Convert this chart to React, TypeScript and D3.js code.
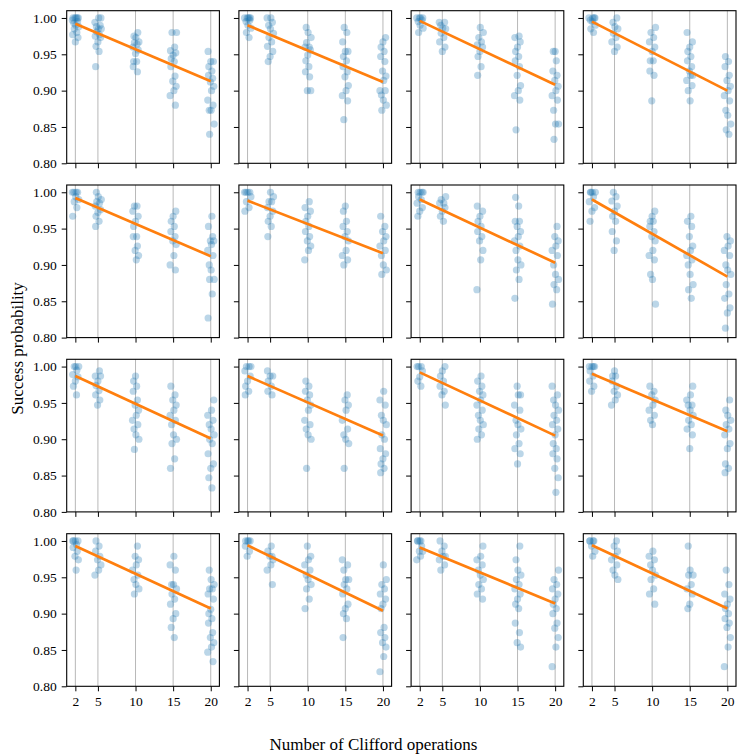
import { useEffect, useRef } from 'react';
import * as d3 from 'd3';

// number of Clifford operations (x categories)
const cliffordCounts = [2, 5, 10, 15, 20];
const yTickValues = [0.8, 0.85, 0.9, 0.95, 1.0];

// success probabilities per panel, one list per Clifford count
const panel01 = [
    [1, 1, 1, 1, 1, 0.997, 0.995, 0.993, 0.99, 0.988, 0.985, 0.98, 0.977, 0.973, 0.967],
    [1, 1, 0.994, 0.99, 0.988, 0.985, 0.985, 0.981, 0.977, 0.975, 0.973, 0.967, 0.961, 0.954, 0.933],
    [0.98, 0.975, 0.973, 0.967, 0.966, 0.964, 0.96, 0.956, 0.951, 0.94, 0.94, 0.933, 0.926],
    [0.98, 0.98, 0.96, 0.955, 0.952, 0.949, 0.944, 0.94, 0.933, 0.92, 0.913, 0.906, 0.9, 0.893, 0.88],
    [0.954, 0.94, 0.94, 0.933, 0.927, 0.921, 0.917, 0.912, 0.906, 0.9, 0.887, 0.88, 0.873, 0.873, 0.854, 0.84],
];
const panel02 = [
    [1, 1, 1, 1, 1, 0.997, 0.995, 0.99, 0.986, 0.98, 0.973],
    [1, 1, 0.994, 0.99, 0.985, 0.979, 0.973, 0.967, 0.961, 0.954, 0.947, 0.94],
    [0.987, 0.98, 0.973, 0.966, 0.96, 0.96, 0.956, 0.949, 0.941, 0.933, 0.926, 0.919, 0.9, 0.9],
    [0.987, 0.98, 0.967, 0.954, 0.954, 0.947, 0.941, 0.933, 0.926, 0.919, 0.907, 0.9, 0.893, 0.886, 0.86],
    [0.973, 0.967, 0.96, 0.954, 0.947, 0.94, 0.927, 0.92, 0.914, 0.9, 0.9, 0.894, 0.887, 0.88, 0.873],
];
const panel03 = [
    [1, 1, 1, 1, 0.997, 0.995, 0.99, 0.986, 0.98],
    [0.994, 0.994, 0.99, 0.986, 0.985, 0.979, 0.973, 0.967, 0.96, 0.954],
    [0.987, 0.98, 0.973, 0.967, 0.963, 0.96, 0.954, 0.947, 0.933, 0.921],
    [0.975, 0.973, 0.967, 0.96, 0.954, 0.947, 0.941, 0.933, 0.921, 0.907, 0.9, 0.893, 0.887, 0.846],
    [0.954, 0.954, 0.941, 0.927, 0.921, 0.914, 0.906, 0.9, 0.893, 0.887, 0.873, 0.854, 0.854, 0.833],
];
const panel04 = [
    [1, 1, 1, 1, 0.997, 0.995, 0.99, 0.985, 0.98],
    [1, 0.994, 0.988, 0.985, 0.979, 0.973, 0.967, 0.96, 0.954],
    [0.987, 0.98, 0.973, 0.967, 0.96, 0.954, 0.941, 0.941, 0.927, 0.921, 0.886],
    [0.98, 0.967, 0.96, 0.954, 0.947, 0.941, 0.933, 0.927, 0.921, 0.921, 0.914, 0.907, 0.9, 0.886],
    [0.947, 0.94, 0.933, 0.921, 0.914, 0.906, 0.9, 0.893, 0.886, 0.873, 0.866, 0.854, 0.846, 0.84],
];
const panel05 = [
    [1, 1, 1, 1, 0.994, 0.99, 0.987, 0.979, 0.967],
    [1, 0.994, 0.99, 0.987, 0.985, 0.981, 0.976, 0.972, 0.967, 0.96, 0.953],
    [0.981, 0.981, 0.974, 0.967, 0.96, 0.953, 0.939, 0.939, 0.926, 0.92, 0.913, 0.907],
    [0.974, 0.967, 0.96, 0.953, 0.946, 0.939, 0.933, 0.928, 0.913, 0.9, 0.893],
    [0.967, 0.953, 0.939, 0.933, 0.933, 0.928, 0.92, 0.913, 0.9, 0.893, 0.88, 0.88, 0.86, 0.827],
];
const panel06 = [
    [1, 1, 1, 1, 0.994, 0.987, 0.979, 0.974],
    [1, 0.994, 0.987, 0.987, 0.979, 0.974, 0.967, 0.96, 0.953, 0.939],
    [0.987, 0.979, 0.974, 0.967, 0.96, 0.953, 0.946, 0.939, 0.933, 0.926, 0.92, 0.907],
    [0.981, 0.974, 0.96, 0.953, 0.946, 0.939, 0.933, 0.92, 0.913, 0.907, 0.9],
    [0.967, 0.953, 0.946, 0.939, 0.933, 0.926, 0.92, 0.913, 0.9, 0.893, 0.887],
];
const panel07 = [
    [1, 1, 1, 1, 0.994, 0.99, 0.985, 0.979, 0.974, 0.967],
    [0.994, 0.99, 0.985, 0.985, 0.979, 0.974, 0.967, 0.96],
    [0.981, 0.974, 0.967, 0.96, 0.953, 0.946, 0.939, 0.933, 0.92, 0.907, 0.866],
    [0.993, 0.981, 0.96, 0.96, 0.953, 0.946, 0.939, 0.933, 0.926, 0.92, 0.907, 0.9, 0.893, 0.88, 0.854],
    [0.953, 0.939, 0.933, 0.926, 0.92, 0.913, 0.9, 0.887, 0.88, 0.873, 0.866, 0.846],
];
const panel08 = [
    [1, 1, 1, 1, 0.994, 0.987, 0.979, 0.974, 0.96],
    [1, 0.994, 0.988, 0.981, 0.974, 0.967, 0.96, 0.946, 0.933, 0.92],
    [0.974, 0.967, 0.96, 0.96, 0.953, 0.946, 0.939, 0.933, 0.92, 0.913, 0.907, 0.887, 0.88, 0.846],
    [0.967, 0.96, 0.953, 0.939, 0.926, 0.92, 0.913, 0.907, 0.9, 0.887, 0.873, 0.866, 0.854],
    [0.939, 0.933, 0.926, 0.92, 0.913, 0.9, 0.893, 0.887, 0.873, 0.86, 0.854, 0.841, 0.834, 0.813],
];
const panel09 = [
    [1, 1, 1, 0.995, 0.989, 0.986, 0.98, 0.973, 0.961],
    [0.994, 0.987, 0.987, 0.98, 0.974, 0.967, 0.961, 0.954, 0.947],
    [0.987, 0.98, 0.973, 0.966, 0.954, 0.947, 0.94, 0.933, 0.926, 0.92, 0.914, 0.906, 0.9, 0.886],
    [0.973, 0.961, 0.954, 0.947, 0.94, 0.933, 0.926, 0.92, 0.906, 0.9, 0.894, 0.873, 0.86],
    [0.954, 0.94, 0.933, 0.926, 0.92, 0.914, 0.906, 0.9, 0.894, 0.88, 0.866, 0.86, 0.847, 0.833],
];
const panel10 = [
    [1, 1, 1, 0.994, 0.987, 0.98, 0.973, 0.966, 0.961],
    [0.994, 0.987, 0.987, 0.98, 0.973, 0.966, 0.961],
    [0.98, 0.973, 0.966, 0.961, 0.954, 0.947, 0.94, 0.926, 0.92, 0.914, 0.906, 0.9, 0.86],
    [0.961, 0.954, 0.947, 0.94, 0.926, 0.914, 0.906, 0.9, 0.894, 0.86],
    [0.966, 0.954, 0.947, 0.933, 0.926, 0.92, 0.906, 0.9, 0.887, 0.88, 0.873, 0.866, 0.86, 0.854],
];
const panel11 = [
    [1, 1, 1, 0.994, 0.986, 0.98, 0.973],
    [1, 0.994, 0.987, 0.98, 0.973, 0.966, 0.961, 0.947],
    [0.987, 0.98, 0.973, 0.966, 0.961, 0.954, 0.947, 0.94, 0.933, 0.926, 0.92, 0.914, 0.906, 0.9],
    [0.973, 0.961, 0.961, 0.947, 0.94, 0.926, 0.92, 0.914, 0.906, 0.894, 0.887, 0.88, 0.866],
    [0.973, 0.961, 0.954, 0.947, 0.94, 0.933, 0.926, 0.92, 0.914, 0.906, 0.894, 0.887, 0.88, 0.873, 0.86, 0.847, 0.827],
];
const panel12 = [
    [1, 1, 1, 1, 0.994, 0.987, 0.98, 0.973, 0.966],
    [0.994, 0.987, 0.987, 0.98, 0.973, 0.966, 0.961, 0.954, 0.947],
    [0.973, 0.966, 0.961, 0.954, 0.947, 0.94, 0.933, 0.926, 0.92],
    [0.973, 0.961, 0.954, 0.947, 0.947, 0.94, 0.933, 0.926, 0.92, 0.914, 0.906, 0.887],
    [0.954, 0.94, 0.933, 0.926, 0.92, 0.914, 0.906, 0.894, 0.887, 0.866, 0.86, 0.854],
];
const panel13 = [
    [1, 1, 1, 1, 0.995, 0.991, 0.986, 0.979, 0.974, 0.96],
    [1, 0.993, 0.986, 0.979, 0.974, 0.967, 0.96, 0.953],
    [0.993, 0.979, 0.974, 0.967, 0.96, 0.953, 0.947, 0.94, 0.934, 0.927],
    [0.979, 0.967, 0.96, 0.94, 0.94, 0.934, 0.927, 0.92, 0.913, 0.9, 0.893, 0.881, 0.867],
    [0.96, 0.947, 0.94, 0.934, 0.934, 0.927, 0.92, 0.906, 0.9, 0.893, 0.887, 0.874, 0.867, 0.86, 0.854, 0.847, 0.834],
];
const panel14 = [
    [1, 1, 1, 1, 0.993, 0.986, 0.979],
    [0.993, 0.986, 0.979, 0.979, 0.974, 0.967, 0.96, 0.94],
    [0.993, 0.979, 0.974, 0.967, 0.96, 0.953, 0.947, 0.94, 0.934, 0.92, 0.907],
    [0.974, 0.967, 0.96, 0.947, 0.947, 0.94, 0.934, 0.927, 0.913, 0.907, 0.9, 0.893, 0.867],
    [0.967, 0.947, 0.94, 0.934, 0.927, 0.92, 0.913, 0.907, 0.881, 0.874, 0.867, 0.86, 0.854, 0.841, 0.82],
];
const panel15 = [
    [1, 1, 1, 1, 0.993, 0.986, 0.986, 0.979, 0.974],
    [1, 0.993, 0.986, 0.979, 0.979, 0.974, 0.967, 0.96],
    [0.993, 0.979, 0.974, 0.967, 0.96, 0.953, 0.947, 0.94, 0.934, 0.927, 0.92],
    [0.993, 0.974, 0.96, 0.953, 0.947, 0.94, 0.934, 0.927, 0.92, 0.913, 0.907, 0.887, 0.874, 0.86, 0.854],
    [0.96, 0.947, 0.94, 0.934, 0.927, 0.92, 0.913, 0.907, 0.9, 0.887, 0.88, 0.867, 0.854, 0.827],
];
const panel16 = [
    [1, 1, 1, 1, 0.993, 0.986, 0.979],
    [1, 0.993, 0.986, 0.979, 0.974, 0.967, 0.96, 0.953, 0.947],
    [0.986, 0.979, 0.974, 0.967, 0.96, 0.953, 0.947, 0.934, 0.927, 0.913],
    [0.993, 0.96, 0.953, 0.953, 0.94, 0.934, 0.927, 0.913, 0.907],
    [0.96, 0.94, 0.927, 0.92, 0.913, 0.907, 0.9, 0.893, 0.887, 0.881, 0.867, 0.854, 0.827],
];

// fitted line end points (at 2 and 20 Cliffords)
const fitStart = [0.992, 0.99, 0.996, 0.995, 0.992, 0.9885, 0.99, 0.99, 0.987, 0.987, 0.992, 0.99, 0.993, 0.994, 0.991, 0.994];
const fitEnd = [0.913, 0.912, 0.908, 0.9, 0.912, 0.916, 0.903, 0.884, 0.901, 0.905, 0.905, 0.911, 0.907, 0.904, 0.914, 0.907];

const panels = [panel01, panel02, panel03, panel04, panel05, panel06, panel07, panel08,
    panel09, panel10, panel11, panel12, panel13, panel14, panel15, panel16];

// fixed horizontal jitter pattern (in x units) to spread overlapping points
const jitter = [-0.3, 0.25, -0.05, 0.4, 0.1, -0.4, 0.3, -0.2, 0.05, 0.45, -0.15, 0.2, -0.35, 0.35, 0.0, -0.25, 0.15];

const W = 747;
const H = 755;
const colLeft = [66.7, 238.9, 411.1, 583.3];
const rowTop = [10.7, 185, 359.3, 533.7];
const pw = 152.7;
const ph = 152.6;
const FONT = '"Liberation Serif", "DejaVu Serif", serif';

export default function App() {
    const svgRef = useRef<SVGSVGElement>(null);

    useEffect(() => {
        if (!svgRef.current) return;
        const svg = d3.select(svgRef.current);
        svg.selectAll('*').remove();

        const x = d3.scaleLinear().domain([0.85, 21.15]).range([0, pw]);
        const y = d3.scaleLinear().domain([0.8, 1.01]).range([ph, 0]);

        panels.forEach((data, i) => {
            const r = Math.floor(i / 4);
            const c = i % 4;
            const g = svg.append('g').attr('transform', `translate(${colLeft[c]},${rowTop[r]})`);

            // vertical grid
            g.selectAll('line.grid')
                .data(cliffordCounts)
                .join('line')
                .attr('x1', d => x(d)).attr('x2', d => x(d))
                .attr('y1', 0).attr('y2', ph)
                .attr('stroke', '#b0b0b0')
                .attr('stroke-width', 0.9);

            // points
            const pts = data.flatMap((vals, k) => vals.map((v, j) => ({
                cx: cliffordCounts[k] + jitter[(j + k * 3 + i) % jitter.length],
                v,
            })));
            g.selectAll('circle')
                .data(pts)
                .join('circle')
                .attr('cx', d => x(d.cx))
                .attr('cy', d => y(d.v))
                .attr('r', 3.6)
                .attr('fill', '#1f77b4')
                .attr('fill-opacity', 0.3);

            // fit line
            const line = d3.line<[number, number]>().x(d => x(d[0])).y(d => y(d[1]));
            g.append('path')
                .attr('d', line([[2, fitStart[i]], [20, fitEnd[i]]]))
                .attr('stroke', '#ff7f0e')
                .attr('stroke-width', 2.7)
                .attr('fill', 'none');

            // axes
            const yAxis = d3.axisLeft(y).tickValues(yTickValues).tickSize(5).tickPadding(5)
                .tickFormat(c === 0 ? d3.format('.2f') : () => '');
            const xAxis = d3.axisBottom(x).tickValues(cliffordCounts).tickSize(5).tickPadding(5)
                .tickFormat(r === 3 ? d3.format('d') : () => '');
            const ya = g.append('g').call(yAxis);
            const xa = g.append('g').attr('transform', `translate(0,${ph})`).call(xAxis);
            [ya, xa].forEach(a => {
                a.select('.domain').remove();
                a.selectAll('line').attr('stroke', '#000').attr('stroke-width', 1);
                a.selectAll('text').attr('font-family', FONT).attr('font-size', 13.5).attr('fill', '#000');
            });

            g.append('rect')
                .attr('width', pw).attr('height', ph)
                .attr('fill', 'none')
                .attr('stroke', '#000')
                .attr('stroke-width', 1.1);
        });

        svg.append('text')
            .attr('x', W / 2)
            .attr('y', 750)
            .attr('text-anchor', 'middle')
            .attr('font-family', FONT)
            .attr('font-size', 17)
            .text('Number of Clifford operations');

        svg.append('text')
            .attr('transform', `translate(23,${(rowTop[0] + rowTop[3] + ph) / 2}) rotate(-90)`)
            .attr('text-anchor', 'middle')
            .attr('font-family', FONT)
            .attr('font-size', 17)
            .text('Success probability');
    }, []);

    return (
        <svg ref={svgRef} width={W} height={H}
            style={{ position: 'absolute', left: 0, top: 0, background: '#fff' }} />
    );
}
